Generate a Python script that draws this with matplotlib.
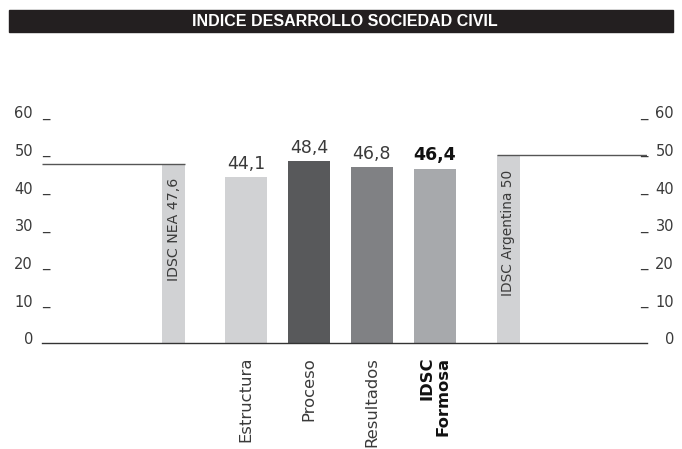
import matplotlib
matplotlib.use("Agg")
import matplotlib.pyplot as plt
from matplotlib.patches import Rectangle

# ── Data ─────────────────────────────────────────────────────────────────
title = "INDICE DESARROLLO SOCIEDAD CIVIL"
categories = ["Estructura", "Proceso", "Resultados", "IDSC\nFormosa"]
values = [44.1, 48.4, 46.8, 46.4]
value_labels = ["44,1", "48,4", "46,8", "46,4"]
bar_colors = ["#d1d2d4", "#58595b", "#808184", "#a7a9ac"]

nea_value = 47.6
nea_label = "IDSC NEA 47,6"
arg_value = 50.0
arg_label = "IDSC Argentina 50"
y_ticks = [0, 10, 20, 30, 40, 50, 60]

# ── Layout (bar positions in units of main-bar spacing) ────────────────
pos = [0, 1, 2, 3]
nea_pos, arg_pos = -1.15, 4.17
x_left, x_right = -3.24, 6.37
W, H = 682, 449
AX_L, AX_R = 42, 647

plt.rcParams["font.family"] = ["DejaVu Sans"]
txt = "#3a3a3a"

fig = plt.figure(figsize=(W / 100, H / 100), dpi=100)
ax = fig.add_axes([AX_L / W, (H - 343.3) / H, (AX_R - AX_L) / W,
                   (343.3 - 117.3) / H])
ax.set_xlim(x_left, x_right)
ax.set_ylim(0, 60)
ax.axis("off")

# main bars
ax.bar(pos, values, width=0.667, color=bar_colors, zorder=2)
for i, (v, lab) in enumerate(zip(values, value_labels)):
    bold = i == len(values) - 1
    ax.text(pos[i], v + 1.1, lab, ha="center", va="bottom", fontsize=12.5,
            color="#111" if bold else txt,
            fontweight="bold" if bold else "normal")
    ax.text(pos[i], -3.6, categories[i], rotation=90, ha="center", va="top",
            multialignment="right", fontsize=11.8,
            color="#111" if bold else txt,
            fontweight="bold" if bold else "normal", linespacing=1.05,
            clip_on=False)

# reference bars (NEA and Argentina)
ax.bar([nea_pos, arg_pos], [nea_value, arg_value], width=0.365,
       color="#d1d2d4", zorder=2)
ax.plot([x_left, nea_pos + 0.1825], [nea_value, nea_value], color="#555555",
        lw=1.0, zorder=3, solid_capstyle="butt")
ax.plot([arg_pos - 0.1825, x_right], [arg_value, arg_value], color="#555555",
        lw=1.0, zorder=3, solid_capstyle="butt")
ax.text(nea_pos, nea_value - 3.6, nea_label, rotation=90, ha="center",
        va="top", fontsize=10.2, color=txt)
ax.text(arg_pos, arg_value - 4.0, arg_label, rotation=90, ha="center",
        va="top", fontsize=9.9, color=txt)

# baseline
ax.plot([x_left, x_right], [0, 0], color="#333333", lw=1.0, zorder=3,
        clip_on=False)

# left / right scale labels with "_" marks
yt = ax.get_yaxis_transform()
span = AX_R - AX_L
lx_num = (33 - AX_L) / span
rx_num = (674 - AX_L) / span
rx_mark = (640 - AX_L) / span
for t in y_ticks:
    ax.text(lx_num, t + 0.9, str(t), transform=yt, ha="right", va="center",
            fontsize=10.5, color=txt, clip_on=False)
    ax.text(rx_num, t + 0.9, str(t), transform=yt, ha="right", va="center",
            fontsize=10.5, color=txt, clip_on=False)
    if t == 0:
        continue
    ax.text(0.0, t + 1.4, "_", transform=yt, ha="left", va="center",
            fontsize=10.5, color=txt, clip_on=False)
    ax.text(rx_mark, t + 1.4, "_", transform=yt, ha="left", va="center",
            fontsize=10.5, color=txt, clip_on=False)

# title bar
fig.patches.append(Rectangle((9 / W, 1 - 32 / H), (673 - 9) / W, 22 / H,
                             transform=fig.transFigure, color="#231f20",
                             zorder=0))
fig.text(345 / W, 1 - 21 / H, title, ha="center", va="center", color="white",
         fontsize=11.5, fontweight="bold",
         family=["Liberation Sans", "DejaVu Sans"])

fig.savefig("out.png", dpi=100)
